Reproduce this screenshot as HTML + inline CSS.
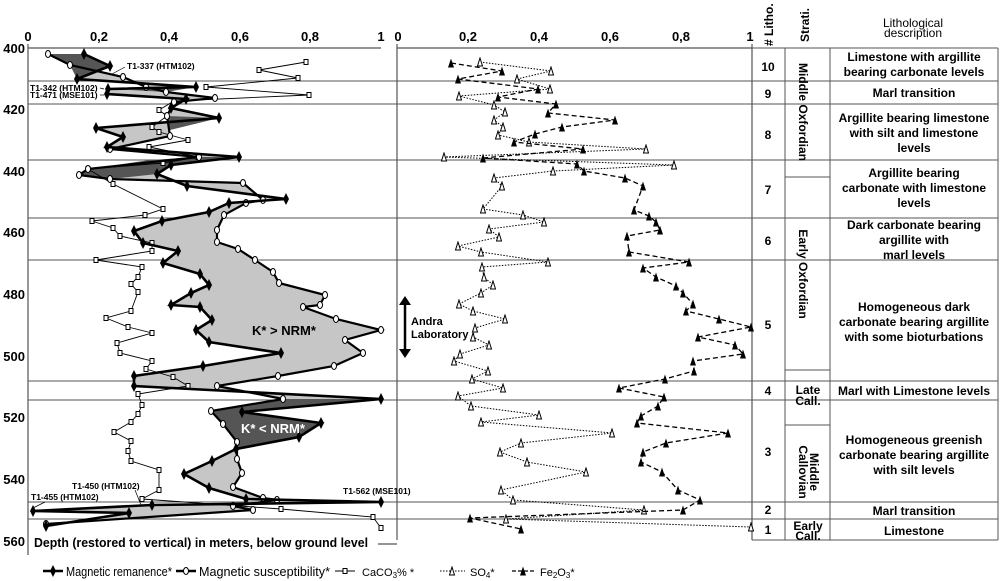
<!DOCTYPE html>
<html><head><meta charset="utf-8"><style>
html,body{margin:0;padding:0;background:#fff}
svg{display:block;font-family:"Liberation Sans",Arial,sans-serif}
.b{font-weight:bold}
</style></head><body>
<svg width="1000" height="581" viewBox="0 0 1000 581" xmlns="http://www.w3.org/2000/svg">
<defs>
<marker id="dia" markerUnits="userSpaceOnUse" markerWidth="8" markerHeight="12" refX="4" refY="6" viewBox="0 0 8 12"><path d="M4 0 L7 6 L4 12 L1 6Z" fill="#000"/></marker>
<marker id="cir" markerUnits="userSpaceOnUse" markerWidth="8" markerHeight="10" refX="4" refY="5" viewBox="0 0 8 10"><ellipse cx="4" cy="5" rx="2.5" ry="3.5" fill="#fff" stroke="#000" stroke-width="1"/></marker>
<marker id="sq" markerUnits="userSpaceOnUse" markerWidth="8" markerHeight="8" refX="4" refY="4" viewBox="0 0 8 8"><rect x="2" y="1.5" width="4" height="5" fill="#fff" stroke="#000" stroke-width="1"/></marker>
<marker id="tri" markerUnits="userSpaceOnUse" markerWidth="8" markerHeight="10" refX="4" refY="5" viewBox="0 0 8 10"><path d="M4 1 L6.5 9 L1.5 9Z" fill="#fff" stroke="#000" stroke-width="1"/></marker>
<marker id="trf" markerUnits="userSpaceOnUse" markerWidth="8" markerHeight="10" refX="4" refY="5" viewBox="0 0 8 10"><path d="M4 0.5 L7 9.5 L1 9.5Z" fill="#000"/></marker>
</defs>

<g class="b" font-size="13" text-anchor="middle">
<text x="28" y="41">0</text><text x="99" y="41">0,2</text><text x="169" y="41">0,4</text><text x="240" y="41">0,6</text><text x="310" y="41">0,8</text><text x="381" y="41">1</text>
<text x="398" y="41">0</text><text x="468" y="41">0,2</text><text x="539" y="41">0,4</text><text x="610" y="41">0,6</text><text x="681" y="41">0,8</text><text x="750" y="41">1</text>
</g>
<g class="b" font-size="13" text-anchor="end">
<text x="25" y="53">400</text><text x="25" y="114">420</text><text x="25" y="176">440</text><text x="25" y="237">460</text><text x="25" y="299">480</text><text x="25" y="361">500</text><text x="25" y="422">520</text><text x="25" y="484">540</text><text x="25" y="546">560</text>
</g>
<g stroke="#555" stroke-width="1.2" fill="none">
<line x1="28" y1="48" x2="381" y2="48"/><line x1="397" y1="48" x2="752" y2="48"/>
<line x1="28" y1="44" x2="28" y2="555"/>
<line x1="397" y1="44" x2="397" y2="540"/>
<line x1="752" y1="44" x2="752" y2="540"/>
<line x1="378" y1="544" x2="397" y2="544"/>
</g>
<g stroke="#555" stroke-width="1">
<line x1="28" y1="81" x2="998" y2="81"/><line x1="28" y1="104" x2="998" y2="104"/>
<line x1="28" y1="160" x2="998" y2="160"/><line x1="28" y1="218" x2="998" y2="218"/>
<line x1="28" y1="260" x2="998" y2="260"/><line x1="28" y1="381" x2="998" y2="381"/>
<line x1="28" y1="400" x2="998" y2="400"/><line x1="28" y1="502" x2="998" y2="502"/>
<line x1="28" y1="519" x2="998" y2="519"/><line x1="752" y1="540" x2="998" y2="540"/>
<line x1="785" y1="48" x2="785" y2="540"/><line x1="830" y1="48" x2="830" y2="540"/>
<line x1="998" y1="48" x2="998" y2="540"/><line x1="752" y1="48" x2="998" y2="48"/>
<line x1="785" y1="177" x2="830" y2="177"/><line x1="785" y1="370" x2="830" y2="370"/><line x1="785" y1="425" x2="830" y2="425"/>
</g>

<polygon fill="#c6c6c6" points="48,54 70,65 123,77 146,87 166,92 215,98 174,102 167,116 170,136 110,149 199,157 88,169 79,175 110,179 243,183 263,200 246,203 224,215 217,230 217,242 238,249 255,260 273,272 279,283 325,295 320,305 303,307 336,319 381,330 345,340 363,353 334,366 278,376 217,386 283,399 211,411 223,424 237,442 237,459 242,473 233,487 263,498 277,500 233,506 253,510 46,524 46,526 129,513 33,511 152,505 381,502 246,499 209,488 184,474 212,461 236,449 299,437 321,423 242,412 381,399 134,386 134,376 203,366 281,353 209,342 196,330 212,320 200,307 171,305 191,293 209,285 200,274 163,263 178,251 143,243 134,231 162,221 209,212 229,203 286,199 187,186 157,174 171,165 239,157 107,147 123,137 96,128 219,118 171,108 186,99 107,94 108,89 196,87 77,79 110,66 84,54"/>
<g fill="#555">
<polygon points="48,54 84,54 110,66 77,79 70,65"/>
<polygon points="167,116 219,118 170,130"/>
<polygon points="199,157 239,157 171,165 157,174 110,179 79,175 88,169 150,160"/>
<polygon points="263,200 286,199 246,203"/>
<polygon points="130,90 196,87 166,92"/>
<polygon points="283,399 381,399 242,412 321,423 299,437 236,449 237,442 223,424 211,411"/>
</g>

<polyline fill="none" stroke="#000" stroke-width="0.9" marker-start="url(#sq)" marker-mid="url(#sq)" marker-end="url(#sq)" points="306,62 259,70 298,78 206,87 309,95 174,101 159,110 167,116 152,127 159,132 188,140 149,147 198,157 163,163 88,169 113,184 163,209 145,215 92,221 113,228 120,236 152,243 152,251 96,260 142,267 138,277 131,284 138,292 131,311 106,318 128,327 152,333 117,343 120,353 152,361 146,369 173,377 188,386 138,394 142,405 138,414 131,422 114,432 131,441 128,451 131,461 159,470 159,490 142,499 281,509 373,517 381,528"/>
<polyline fill="none" stroke="#000" stroke-width="2.2" marker-start="url(#cir)" marker-mid="url(#cir)" marker-end="url(#cir)" points="48,54 70,65 123,77 146,87 166,92 215,98 174,102 167,116 170,136 110,149 199,157 88,169 79,175 110,179 243,183 263,200 246,203 224,215 217,230 217,242 238,249 255,260 273,272 279,283 325,295 320,305 303,307 336,319 381,330 345,340 363,353 334,366 278,376 217,386 283,399 211,411 223,424 237,442 237,459 242,473 233,487 263,498 277,500 233,506 253,510 46,524"/>
<polyline fill="none" stroke="#000" stroke-width="2.6" marker-start="url(#dia)" marker-mid="url(#dia)" marker-end="url(#dia)" points="84,54 110,66 77,79 196,87 108,89 107,94 186,99 171,108 219,118 96,128 123,137 107,147 239,157 171,165 157,174 187,186 286,199 229,203 209,212 162,221 134,231 143,243 178,251 163,263 200,274 209,285 191,293 171,305 200,307 212,320 196,330 209,342 281,353 203,366 134,376 134,386 381,399 242,412 321,423 299,437 236,449 212,461 184,474 209,488 246,499 381,502 152,505 33,511 129,513 46,526"/>

<polyline fill="none" stroke="#000" stroke-width="1" stroke-dasharray="1.5,1.5" marker-start="url(#tri)" marker-mid="url(#tri)" marker-end="url(#tri)" points="480,62 551,71 517,79 550,89 459,96 494,105 505,112 494,120 503,127 498,135 529,142 646,149 444,157 674,165 553,171 494,178 502,186 483,209 523,215 544,222 489,229 499,237 458,246 481,252 548,262 482,267 484,277 493,285 481,293 459,304 473,311 505,319 475,328 473,337 489,345 460,354 454,361 488,371 472,379 503,388 458,396 471,406 539,415 481,422 612,433 521,443 500,452 527,462 586,472 501,490 513,500 644,510 506,519 751,527"/>
<polyline fill="none" stroke="#000" stroke-width="1.3" stroke-dasharray="5,3" marker-start="url(#trf)" marker-mid="url(#trf)" marker-end="url(#trf)" points="451,63 502,71 458,79 538,89 498,97 556,104 548,113 615,120 562,127 535,134 514,142 583,149 483,158 577,164 584,171 625,178 643,186 634,210 649,216 656,222 660,230 627,236 629,252 689,262 643,268 656,277 676,286 683,293 693,304 686,311 719,319 751,327 698,337 735,345 743,354 693,361 694,371 665,379 619,388 664,397 658,406 641,416 637,423 728,433 666,443 643,452 641,462 662,472 678,490 700,500 683,510 470,518 521,529"/>

<line x1="405" y1="303" x2="405" y2="351" stroke="#000" stroke-width="2.5"/>
<path d="M399 305 L405 296 L411 305Z M399 349 L405 358 L411 349Z" fill="#000"/>
<g class="b" font-size="11"><text x="411" y="325">Andra</text><text x="411" y="338">Laboratory</text></g>

<g class="b" font-size="8.5">
<text x="127" y="69">T1-337 (HTM102)</text>
<text x="30" y="91">T1-342 (HTM102)</text>
<text x="30" y="98">T1-471 (MSE101)</text>
<text x="72" y="489">T1-450 (HTM102)</text>
<text x="31" y="500">T1-455 (HTM102)</text>
<text x="343" y="494">T1-562 (MSE101)</text>
</g>
<g stroke="#000" stroke-width="0.7"><line x1="125" y1="67" x2="112" y2="74"/><line x1="100" y1="88" x2="104" y2="89"/><line x1="100" y1="95" x2="104" y2="95"/><line x1="135" y1="490" x2="141" y2="505"/><line x1="45" y1="502" x2="33" y2="508"/></g>
<text class="b" x="252" y="335" font-size="13">K* &gt; NRM*</text>
<text class="b" x="241" y="433" font-size="13" fill="#fff">K* &lt; NRM*</text>
<text class="b" x="34" y="547" font-size="12.5" textLength="334" lengthAdjust="spacingAndGlyphs">Depth (restored to vertical) in meters, below ground level</text>

<g class="b" font-size="12">
<text transform="translate(773,46) rotate(-90)"># Litho.</text>
<text transform="translate(809,42) rotate(-90)">Strati.</text>
</g>
<g font-size="12" text-anchor="middle"><text x="913" y="27">Lithological</text><text x="913" y="37">description</text></g>
<g class="b" font-size="12" text-anchor="middle">
<text x="768" y="71">10</text><text x="768" y="98">9</text><text x="768" y="139">8</text><text x="768" y="194">7</text><text x="768" y="245">6</text><text x="768" y="329">5</text><text x="768" y="395">4</text><text x="768" y="456">3</text><text x="768" y="514">2</text><text x="768" y="534">1</text>
</g>
<g class="b" font-size="12" text-anchor="middle">
<text transform="translate(799,112) rotate(90)">Middle Oxfordian</text>
<text transform="translate(799,274) rotate(90)">Early Oxfordian</text>
<text x="808" y="394">Late</text><text x="808" y="405">Call.</text>
<text transform="translate(810,472) rotate(90)">Middle</text><text transform="translate(799,472) rotate(90)">Callovian</text>
<text x="808" y="530">Early</text><text x="808" y="540">Call.</text>
</g>
<g class="b" font-size="12" text-anchor="middle">
<text x="914" y="61">Limestone with argillite</text><text x="914" y="76">bearing carbonate levels</text>
<text x="914" y="97">Marl transition</text>
<text x="914" y="122">Argillite bearing limestone</text><text x="914" y="137">with silt and limestone</text><text x="914" y="152">levels</text>
<text x="914" y="177">Argillite  bearing</text><text x="914" y="192">carbonate with limestone</text><text x="914" y="207">levels</text>
<text x="914" y="229">Dark carbonate bearing</text><text x="914" y="244">argillite with</text><text x="914" y="259">marl levels</text>
<text x="914" y="311">Homogeneous dark</text><text x="914" y="326">carbonate bearing argillite</text><text x="914" y="341">with some bioturbations</text>
<text x="914" y="395">Marl with Limestone levels</text>
<text x="914" y="444">Homogeneous greenish</text><text x="914" y="459">carbonate bearing argillite</text><text x="914" y="474">with silt levels</text>
<text x="914" y="515">Marl transition</text>
<text x="914" y="535">Limestone</text>
</g>

<g font-size="12.5">
<polyline points="43,571 53,571 63,571" fill="none" stroke="#000" stroke-width="2.6" marker-mid="url(#dia)"/>
<text x="66" y="576" textLength="106" lengthAdjust="spacingAndGlyphs">Magnetic  remanence*</text>
<polyline points="176,571 186,571 196,571" fill="none" stroke="#000" stroke-width="2.6" marker-mid="url(#cir)"/>
<text x="199" y="576" textLength="131" lengthAdjust="spacingAndGlyphs">Magnetic  susceptibility*</text>
<polyline points="335,571 345,571 355,571" fill="none" stroke="#000" stroke-width="0.9" marker-mid="url(#sq)"/>
<text x="362" y="576" font-size="11">CaCO<tspan font-size="8" dy="2">3</tspan><tspan dy="-2">% *</tspan></text>
<polyline points="440,571 452,571 465,571" fill="none" stroke="#000" stroke-width="1" stroke-dasharray="1.5,1.5" marker-mid="url(#tri)"/>
<text x="470" y="576" font-size="11">SO<tspan font-size="8" dy="2">4</tspan><tspan dy="-2">*</tspan></text>
<polyline points="512,571 523,571 535,571" fill="none" stroke="#000" stroke-width="1.3" stroke-dasharray="4,2" marker-mid="url(#trf)"/>
<text x="540" y="576" font-size="11">Fe<tspan font-size="8" dy="2">2</tspan><tspan dy="-2">O</tspan><tspan font-size="8" dy="2">3</tspan><tspan dy="-2">*</tspan></text>
</g>
</svg>
</body></html>
